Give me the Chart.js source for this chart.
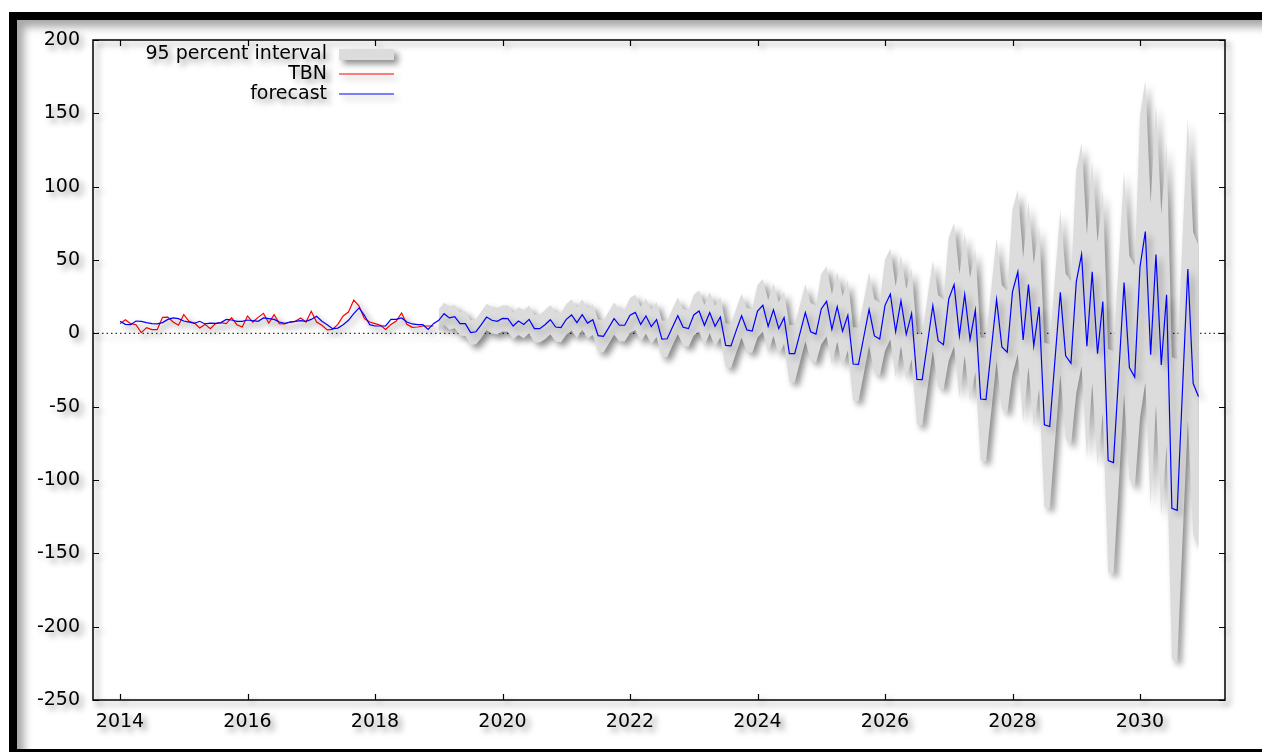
<!DOCTYPE html>
<html>
<head>
<meta charset="utf-8">
<title>TBN forecast</title>
<script src="https://cdn.jsdelivr.net/npm/chart.js@4.4.1/dist/chart.umd.min.js"></script>
<style>
  html, body { margin: 0; padding: 0; background: #fff; overflow: hidden; }
  #page { position: relative; width: 1262px; height: 752px; overflow: hidden; background: #fff; }
  #frame {
    position: absolute; left: 9px; top: 12px; width: 1300px; height: 729px;
    border-left: 8px solid #000; border-top: 8px solid #000; border-bottom: 8px solid #000;
    box-shadow: inset 7px 7px 9px rgba(0, 0, 0, 0.35);
  }
  #chart-area { position: absolute; left: 0; top: 0; }
</style>
</head>
<body>
<div id="page">
  <div id="frame"></div>
  <canvas id="chart-area" width="1262" height="752"></canvas>
</div>
<script>
// monthly series, first observation 2014:01
var startYear = 2014;
var forecastStart = 60; // 2019:01

// observed TBN, 2014:01 - 2018:12
var tbn = [
  6.6, 9.3, 6.6, 5.9, 0.5, 3.9, 2.5, 2.5, 10.9, 11.1, 7.7, 5.5,
  12.7, 8.2, 7.0, 3.6, 6.1, 3.2, 6.6, 7.3, 6.6, 10.7, 5.9, 4.3,
  11.8, 7.7, 10.9, 13.6, 7.0, 12.7, 6.6, 6.4, 7.7, 8.2, 10.5, 7.7,
  15.0, 7.7, 5.5, 2.3, 2.7, 6.1, 11.8, 14.5, 22.7, 18.6, 10.0, 7.7,
  6.6, 5.5, 2.7, 6.1, 8.4, 13.9, 6.1, 4.1, 4.3, 5.0, 5.0, 5.0
];

// fitted values + forecast, 2014:01 - 2030:12
var forecast = [
  8.2, 6.1, 5.9, 8.4, 8.2, 7.3, 6.6, 6.4, 7.3, 9.5, 10.5, 10.0,
  8.4, 7.7, 6.8, 8.2, 6.4, 7.0, 6.8, 7.3, 9.5, 9.1, 8.2, 8.2,
  9.1, 8.6, 8.2, 10.5, 10.0, 9.5, 7.7, 6.8, 7.7, 8.2, 8.6, 8.2,
  9.5, 11.6, 8.2, 5.9, 3.2, 3.6, 5.9, 8.9, 13.4, 17.3, 12.3, 5.9,
  5.0, 5.0, 5.0, 9.5, 9.5, 10.5, 7.7, 6.4, 5.9, 5.9, 2.7, 6.6,
  8.9, 13.4, 10.5, 11.4, 6.6, 6.6, 0.5, 1.1, 5.9, 11.1, 8.9, 8.2,
  10.2, 10.0, 5.0, 8.4, 6.1, 9.5, 3.2, 3.2, 5.9, 9.3, 4.3, 3.9,
  9.5, 12.5, 7.3, 12.7, 7.0, 9.3, -1.6, -2.0, 3.9, 10.0, 5.5, 5.5,
  12.3, 14.3, 6.1, 11.8, 4.5, 9.3, -3.9, -3.7, 4.3, 12.0, 4.1, 3.2,
  12.5, 15.2, 5.5, 14.1, 4.8, 11.1, -8.2, -8.6, 2.0, 12.0, 2.3, 1.6,
  15.2, 19.1, 4.8, 16.1, 3.2, 10.7, -13.9, -13.9, 0.2, 14.1, 1.1, -0.5,
  16.6, 21.8, 2.7, 18.2, 1.4, 12.3, -20.9, -21.1, -2.5, 16.4, -1.8, -3.9,
  19.1, 26.8, 1.1, 22.3, -0.7, 13.4, -31.4, -31.6, -6.4, 18.9, -5.0, -7.7,
  23.4, 33.2, -1.6, 26.6, -4.1, 15.7, -44.8, -45.2, -11.1, 23.0, -9.3, -12.8,
  28.4, 41.9, -4.5, 33.3, -8.5, 18.1, -62.4, -63.5, -17.7, 27.9, -15.3, -20.4,
  35.1, 53.8, -8.8, 41.9, -13.9, 21.7, -86.7, -88.1, -27.0, 34.6, -23.3, -29.8,
  45.4, 69.4, -14.5, 53.8, -21.5, 26.3, -119.3, -120.7, -38.0, 43.8, -34.1, -43.0
];

// 95 percent interval, 2019:01 - 2030:12
var lower95 = [
  1.4, 5.9, 2.5, 3.4, -1.4, -1.9, -8.0, -7.4, -3.1, 2.1, -0.1, -0.8,
  1.2, 1.0, -4.0, -1.1, -3.4, 0.0, -6.3, -6.3, -4.1, -0.7, -5.7, -6.1,
  -1.0, 2.0, -3.2, 2.2, -3.5, -1.2, -12.6, -13.0, -7.1, -1.0, -5.5, -5.5,
  0.3, 2.3, -5.9, -0.2, -7.5, -2.7, -16.4, -16.2, -8.2, -0.5, -8.4, -9.3,
  -1.5, 1.2, -8.5, 0.1, -9.2, -2.9, -23.2, -23.6, -13.0, -3.0, -12.7, -13.4,
  -2.8, 1.1, -13.2, -1.9, -14.8, -7.3, -33.4, -33.4, -19.3, -5.4, -18.4, -20.0,
  -7.4, -2.2, -21.3, -5.8, -22.6, -11.7, -45.9, -46.1, -27.5, -8.6, -26.8, -28.9,
  -11.9, -4.2, -29.9, -8.7, -31.7, -17.6, -62.4, -62.6, -37.4, -12.1, -36.0, -38.7,
  -18.6, -8.8, -43.6, -15.4, -46.1, -26.3, -86.8, -87.2, -53.1, -19.0, -51.3, -54.8,
  -27.6, -14.1, -60.5, -22.7, -64.5, -37.9, -118.4, -119.5, -73.7, -28.1, -71.3, -76.4,
  -40.9, -22.2, -84.8, -34.1, -89.9, -54.3, -162.7, -164.1, -103.0, -41.4, -99.3, -105.8,
  -57.6, -33.6, -117.5, -49.2, -124.5, -76.7, -222.3, -223.7, -141.0, -59.2, -137.1, -146.0
];
var upper95 = [
  16.4, 20.9, 18.5, 19.4, 14.6, 15.1, 9.0, 9.6, 14.9, 20.1, 17.9, 17.2,
  19.2, 19.0, 14.0, 17.9, 15.6, 19.0, 12.7, 12.7, 15.9, 19.3, 14.3, 13.9,
  20.0, 23.0, 17.8, 23.2, 17.5, 19.8, 9.4, 9.0, 14.9, 21.0, 16.5, 16.5,
  24.3, 26.3, 18.1, 23.8, 16.5, 21.3, 8.6, 8.8, 16.8, 24.5, 16.6, 15.7,
  26.5, 29.2, 19.5, 28.1, 18.8, 25.1, 6.8, 6.4, 17.0, 27.0, 17.3, 16.6,
  33.2, 37.1, 22.8, 34.1, 21.2, 28.7, 5.6, 5.6, 19.7, 33.6, 20.6, 19.0,
  40.6, 45.8, 26.7, 42.2, 25.4, 36.3, 4.1, 3.9, 22.5, 41.4, 23.2, 21.1,
  50.1, 57.8, 32.1, 53.3, 30.3, 44.4, -0.4, -0.6, 24.6, 49.9, 26.0, 23.3,
  65.4, 75.2, 40.4, 68.6, 37.9, 57.7, -2.8, -3.2, 30.9, 65.0, 32.7, 29.2,
  84.4, 97.9, 51.5, 89.3, 47.5, 74.1, -6.4, -7.5, 38.3, 83.9, 40.7, 35.6,
  111.1, 129.8, 67.2, 117.9, 62.1, 97.7, -10.7, -12.1, 49.0, 110.6, 52.7, 46.2,
  148.4, 172.4, 88.5, 156.8, 81.5, 129.3, -16.3, -17.7, 65.0, 146.8, 68.9, 60.0
];

var yearTicks = [2014, 2016, 2018, 2020, 2022, 2024, 2026, 2028, 2030];
var valueTicks = [-250, -200, -150, -100, -50, 0, 50, 100, 150, 200];

function monthPoints(values, offset) {
  return values.map(function (v, k) {
    return { x: startYear + (offset + k) / 12, y: v };
  });
}

Chart.defaults.font.family = '"DejaVu Sans", Verdana, sans-serif';
Chart.defaults.font.size = 19;
Chart.defaults.color = '#000';

// gnuplot look: drop shadow, box with inward ticks, dotted zero line, key
var gretlLook = {
  id: 'gretlLook',
  beforeDraw: function (chart) {
    var ctx = chart.ctx;
    ctx.shadowColor = 'rgba(0, 0, 0, 0.45)';
    ctx.shadowBlur = 6;
    ctx.shadowOffsetX = 4;
    ctx.shadowOffsetY = 4;
  },
  beforeDatasetsDraw: function (chart) {
    var ctx = chart.ctx, a = chart.chartArea;
    var y0 = chart.scales.y.getPixelForValue(0);
    ctx.save();
    ctx.strokeStyle = '#333';
    ctx.lineWidth = 1.3;
    ctx.setLineDash([1.5, 3]);
    ctx.beginPath();
    ctx.moveTo(a.left, y0);
    ctx.lineTo(a.right, y0);
    ctx.stroke();
    ctx.restore();
  },
  afterDatasetsDraw: function (chart) {
    var ctx = chart.ctx, a = chart.chartArea;
    var xs = chart.scales.x, ys = chart.scales.y;
    ctx.save();
    ctx.strokeStyle = '#000';
    ctx.lineWidth = 1.5;
    ctx.strokeRect(a.left, a.top, a.right - a.left, a.bottom - a.top);
    ctx.beginPath();
    yearTicks.forEach(function (v) {
      var px = Math.round(xs.getPixelForValue(v)) + 0.5;
      ctx.moveTo(px, a.bottom); ctx.lineTo(px, a.bottom - 6);
      ctx.moveTo(px, a.top); ctx.lineTo(px, a.top + 6);
    });
    valueTicks.forEach(function (v) {
      var py = Math.round(ys.getPixelForValue(v)) + 0.5;
      ctx.moveTo(a.left, py); ctx.lineTo(a.left + 6, py);
      ctx.moveTo(a.right, py); ctx.lineTo(a.right - 6, py);
    });
    ctx.lineWidth = 1.2;
    ctx.stroke();

    // key
    var ds = chart.data.datasets;
    ctx.font = '19px "DejaVu Sans", Verdana, sans-serif';
    ctx.textAlign = 'right';
    ctx.textBaseline = 'middle';
    [ds[1], ds[2], ds[3]].forEach(function (d, k) {
      var y = 54 + k * 20;
      ctx.fillStyle = '#000';
      ctx.fillText(d.label, 327, y);
      if (k === 0) {
        ctx.fillStyle = d.backgroundColor;
        ctx.fillRect(339, y - 5, 55, 11);
      } else {
        ctx.strokeStyle = d.borderColor;
        ctx.lineWidth = 1.2;
        ctx.beginPath();
        ctx.moveTo(339, y);
        ctx.lineTo(394, y);
        ctx.stroke();
      }
    });
    ctx.restore();
  },
  afterDraw: function (chart) {
    var ctx = chart.ctx;
    ctx.shadowColor = 'rgba(0, 0, 0, 0)';
    ctx.shadowBlur = 0;
    ctx.shadowOffsetX = 0;
    ctx.shadowOffsetY = 0;
  }
};

var config = {
  type: 'line',
  data: {
    datasets: [{
      label: 'lower',
      data: monthPoints(lower95, forecastStart),
      borderColor: 'rgba(0, 0, 0, 0)',
      borderWidth: 0,
      pointRadius: 0,
      fill: false,
      order: 3
    }, {
      label: '95 percent interval',
      data: monthPoints(upper95, forecastStart),
      borderColor: 'rgba(0, 0, 0, 0)',
      backgroundColor: '#dcdcdc',
      borderWidth: 0,
      pointRadius: 0,
      fill: '-1',
      order: 2
    }, {
      label: 'TBN',
      data: monthPoints(tbn, 0),
      borderColor: '#ff0000',
      borderWidth: 1.2,
      pointRadius: 0,
      fill: false,
      order: 1
    }, {
      label: 'forecast',
      data: monthPoints(forecast, 0),
      borderColor: '#0000ff',
      borderWidth: 1.2,
      pointRadius: 0,
      fill: false,
      order: 0
    }]
  },
  options: {
    responsive: false,
    animation: false,
    devicePixelRatio: 1,
    layout: { padding: { left: 0, top: 40, right: 37, bottom: 0 } },
    elements: { line: { tension: 0 } },
    plugins: {
      legend: { display: false },
      tooltip: { enabled: false }
    },
    scales: {
      x: {
        type: 'linear',
        position: 'bottom',
        min: 2013.576,
        max: 2031.333,
        grid: { display: false, drawTicks: false },
        border: { display: false },
        ticks: {
          padding: 11,
          maxRotation: 0,
          autoSkip: false,
          callback: function (v) { return String(v); }
        },
        afterBuildTicks: function (s) {
          s.ticks = yearTicks.map(function (v) { return { value: v }; });
        },
        afterFit: function (s) { s.height = 52; }
      },
      y: {
        type: 'linear',
        min: -250,
        max: 200,
        grid: { display: false, drawTicks: false },
        border: { display: false },
        ticks: {
          padding: 13,
          callback: function (v) { return String(v); }
        },
        afterBuildTicks: function (s) {
          s.ticks = valueTicks.map(function (v) { return { value: v }; });
        },
        afterFit: function (s) { s.width = 93; }
      }
    }
  },
  plugins: [gretlLook]
};

window.onload = function () {
  var ctx = document.getElementById('chart-area').getContext('2d');
  window.tbnChart = new Chart(ctx, config);
};
</script>
</body>
</html>
